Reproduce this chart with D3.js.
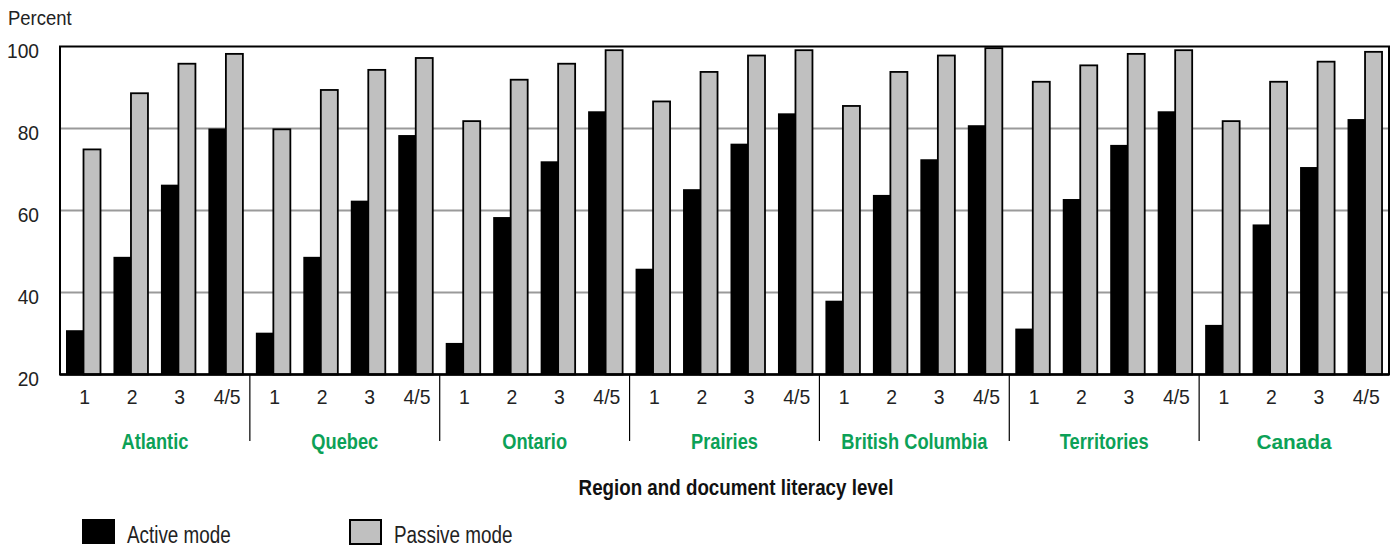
<!DOCTYPE html>
<html>
<head>
<meta charset="utf-8">
<script src="https://cdn.jsdelivr.net/npm/d3@7"></script>
<style>
  html, body { margin: 0; padding: 0; background: #fff; }
  svg { display: block; }
  text { font-family: "Liberation Sans", Arial, Helvetica, sans-serif; }
</style>
</head>
<body>
<svg id="chart" width="1395" height="546"></svg>
<script>
const regions = ["Atlantic", "Quebec", "Ontario", "Prairies", "British Columbia", "Territories", "Canada"];
const levels = ["1", "2", "3", "4/5"];
const activeMode = [
  30.8, 48.7, 66.3, 80.0,   // Atlantic
  30.2, 48.7, 62.4, 78.4,   // Quebec
  27.7, 58.4, 72.0, 84.2,   // Ontario
  45.8, 65.2, 76.3, 83.7,   // Prairies
  38.0, 63.8, 72.5, 80.8,   // British Columbia
  31.2, 62.8, 76.0, 84.2,   // Territories
  32.1, 56.6, 70.6, 82.3    // Canada
];
const passiveMode = [
  74.9, 88.6, 95.8, 98.2,
  79.8, 89.4, 94.3, 97.2,
  81.8, 91.9, 95.8, 99.1,
  86.6, 93.8, 97.8, 99.1,
  85.5, 93.8, 97.8, 99.6,
  91.4, 95.4, 98.2, 99.1,
  81.8, 91.4, 96.3, 98.7
];
const yTicks = [20, 40, 60, 80, 100];
const seriesNames = ["Active mode", "Passive mode"];

(function () {
const svg = d3.select("#chart");
const pLeft = 60, pRight = 1389, pTop = 46.5, pBottom = 374.5;
const GREEN = "#0ca157";

const rows = [];
regions.forEach((r, ri) => levels.forEach((l, li) => {
  const i = ri * 4 + li;
  rows.push({ key: r + "|" + l, region: r, level: l, active: activeMode[i], passive: passiveMode[i] });
}));

const x = d3.scaleBand().domain(rows.map(d => d.key)).range([pLeft, pRight]).padding(0);
const xInner = d3.scaleBand().domain(["active", "passive"]).range([6, 41]).padding(0);
const y = d3.scaleLinear().domain([20, 100]).range([pBottom, pTop]);

// helper: condensed text
function ctext(sel, tx, ty, sx) {
  return sel.attr("x", 0).attr("y", 0).attr("transform", `translate(${tx},${ty}) scale(${sx},1)`);
}

// gridlines
svg.append("g").selectAll("line")
  .data(yTicks.filter(t => t > 20 && t < 100))
  .join("line")
  .attr("x1", pLeft).attr("x2", pRight)
  .attr("y1", d => y(d)).attr("y2", d => y(d))
  .attr("stroke", "#9a9a9a").attr("stroke-width", 2);

// bars
const g = svg.append("g");
g.selectAll("rect.active").data(rows).join("rect")
  .attr("class", "active")
  .attr("x", d => x(d.key) + xInner("active"))
  .attr("width", xInner.bandwidth())
  .attr("y", d => y(d.active))
  .attr("height", d => y(20) - y(d.active))
  .attr("fill", "#000");
g.selectAll("rect.passive").data(rows).join("rect")
  .attr("class", "passive")
  .attr("x", d => x(d.key) + xInner("passive"))
  .attr("width", xInner.bandwidth() - 0.5)
  .attr("y", d => y(d.passive))
  .attr("height", d => y(20) - y(d.passive))
  .attr("fill", "#c0c0c0").attr("stroke", "#000").attr("stroke-width", 1.8);

// frame
svg.append("rect")
  .attr("x", pLeft).attr("y", pTop)
  .attr("width", pRight - pLeft).attr("height", pBottom - pTop)
  .attr("fill", "none").attr("stroke", "#000").attr("stroke-width", 2);
svg.append("line").attr("x1", pLeft).attr("x2", pRight).attr("y1", pBottom).attr("y2", pBottom)
  .attr("stroke", "#000").attr("stroke-width", 2.5);

// y axis
const yAxis = d3.axisLeft(y).tickValues(yTicks).tickSize(0).tickPadding(21);
const ya = svg.append("g").attr("transform", `translate(${pLeft},0)`).call(yAxis);
ya.select(".domain").remove();
ya.selectAll("text").attr("font-size", 20).attr("fill", "#222")
  .style("font-family", "\"Liberation Sans\", Arial, sans-serif")
  .attr("dy", null)
  .each(function () { ctext(d3.select(this), -21, 11, 0.96); });

// "Percent"
ctext(svg.append("text").attr("font-size", 21).attr("fill", "#222").text("Percent"), 8, 25, 0.88);

// x axis level labels
const xAxis = d3.axisBottom(x).tickSize(0).tickPadding(16).tickFormat(k => k.split("|")[1]);
const xa = svg.append("g").attr("transform", `translate(0,${pBottom})`).call(xAxis);
xa.select(".domain").remove();
xa.selectAll("text").attr("font-size", 20).attr("fill", "#222")
  .style("font-family", "\"Liberation Sans\", Arial, sans-serif")
  .attr("dy", null)
  .each(function () { ctext(d3.select(this), 1, 29.5, 0.97); });

// region separators
const sepKeys = regions.slice(1).map(r => r + "|1");
svg.append("g").selectAll("line").data(sepKeys).join("line")
  .attr("x1", d => x(d)).attr("x2", d => x(d))
  .attr("y1", pBottom).attr("y2", 441)
  .attr("stroke", "#000").attr("stroke-width", 1.2);

// region labels
svg.append("g").selectAll("text").data(regions).join("text")
  .attr("text-anchor", "middle")
  .attr("font-size", r => r === "Canada" ? 20 : 22)
  .attr("font-weight", "bold")
  .attr("fill", GREEN)
  .text(r => r)
  .each(function (r) {
    const cx = (x(r + "|1") + x(r + "|4/5") + x.bandwidth()) / 2;
    ctext(d3.select(this), cx, 449, r === "Canada" ? 1.04 : 0.83);
  });

// x title
ctext(svg.append("text").attr("text-anchor", "middle")
  .attr("font-size", 22).attr("font-weight", "bold").attr("fill", "#111")
  .text("Region and document literacy level"), 736, 495, 0.853);

// legend
const legend = svg.append("g");
const legX = [82, 349];
legend.selectAll("rect").data(seriesNames).join("rect")
  .attr("x", (d, i) => legX[i] + (i ? 1 : 0)).attr("y", (d, i) => i ? 520 : 519)
  .attr("width", (d, i) => i ? 31 : 33).attr("height", (d, i) => i ? 24 : 25)
  .attr("fill", (d, i) => i ? "#c0c0c0" : "#000")
  .attr("stroke", (d, i) => i ? "#000" : "none").attr("stroke-width", 2);
legend.selectAll("text").data(seriesNames).join("text")
  .attr("font-size", 23).attr("fill", "#222")
  .text(d => d)
  .each(function (d, i) { ctext(d3.select(this), legX[i] + 45, 543, 0.82); });
})();
</script>
</body>
</html>
